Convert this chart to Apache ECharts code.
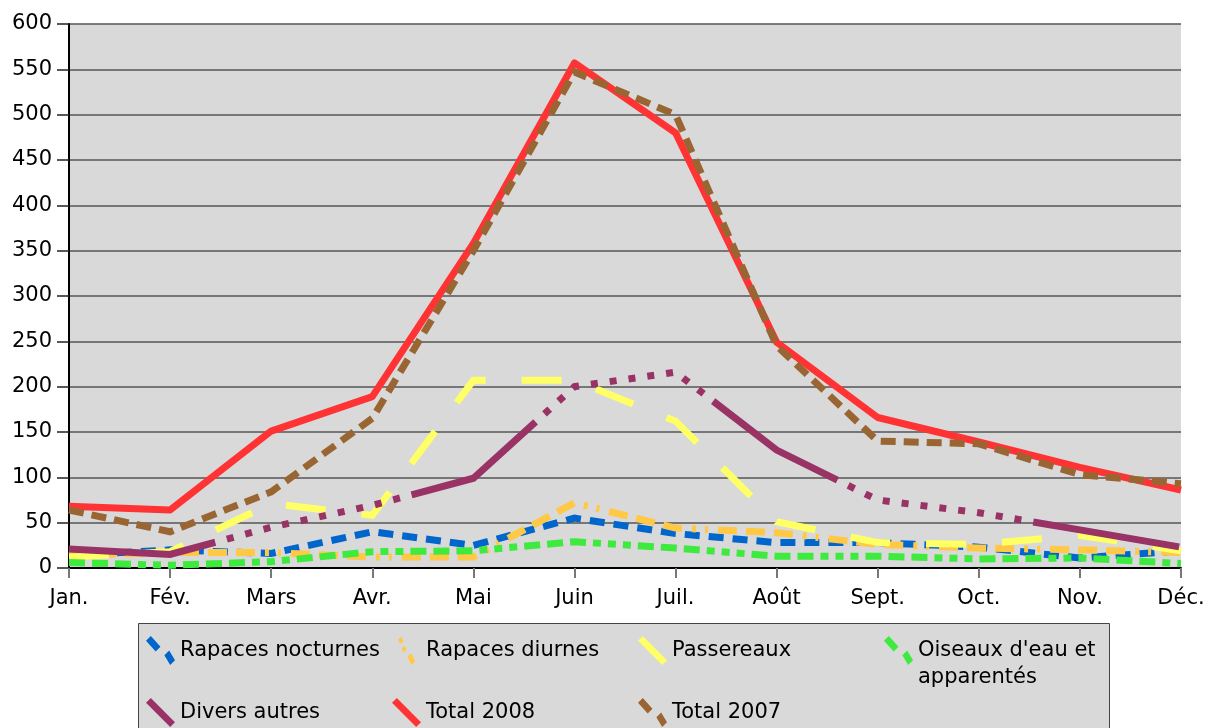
<!DOCTYPE html>
<html>
<head>
<meta charset="utf-8">
<script src="https://cdn.jsdelivr.net/npm/echarts@6/dist/echarts.min.js"></script>
<style>
html,body{margin:0;padding:0;background:#fff;}
#chart{width:1208px;height:728px;}
</style>
</head>
<body>
<div id="chart"></div>
<script>
const months = ['Jan.','Fév.','Mars','Avr.','Mai','Juin','Juil.','Août','Sept.','Oct.','Nov.','Déc.'];
const rapacesNocturnes = [14, 20, 16, 40, 25, 55, 38, 28, 28, 23, 11, 19];
const rapacesDiurnes   = [14, 17, 17, 12, 12, 72, 44, 39, 26, 22, 20, 17];
const passereaux       = [12, 18, 71, 58, 207, 207, 162, 51, 28, 26, 36, 19];
const oiseauxEau       = [6, 3, 7, 18, 19, 29, 22, 13, 13, 10, 11, 5];
const diversAutres     = [21, 15, 45, 69, 99, 200, 216, 130, 75, 61, 42, 23];
const total2008        = [68, 64, 151, 189, 358, 557, 480, 249, 166, 139, 111, 86];
const total2007        = [64, 40, 84, 165, 350, 547, 500, 245, 140, 137, 103, 93];
const yMin = 0, yMax = 600, yStep = 50;

const FONT = 'DejaVu Sans';
const names = ['Rapaces nocturnes','Rapaces diurnes','Passereaux',"Oiseaux d'eau et apparentés",'Divers autres','Total 2008','Total 2007'];
const colors = ['#0066cc','#ffc845','#ffff66','#3dea3d','#993366','#ff3333','#996633'];
const dashes = [
  [15, 9],
  [19, 9, 19, 9, 19, 10, 4, 9, 3, 10],
  [40, 36],
  [16, 7, 16, 7, 16, 7, 8, 7, 8, 7, 8, 7],
  [148, 12, 7,12, 7,12, 7,12, 7,12, 7,12, 7,12, 7,12, 7,12, 7,12, 7,12],
  'solid',
  [15, 8]
];
const values = [rapacesNocturnes, rapacesDiurnes, passereaux, oiseauxEau, diversAutres, total2008, total2007];

const iconSolid = 'path://M0,5 L5,0 L30,25 L25,30 Z';
const iconTwo = 'path://M0,5 L5,0 L15,11 L10,16 Z M19,20 L24,15 L30,25 L25,30 Z';
const iconThree = 'path://M0,0 L0.1,0 L0,0.1 Z M6,4 L9,1 L12,5 L9,8 Z M10,13 L13,10 L15,14 L12,17 Z M16,21 L20,18 L24,26 L20,30 Z M29.9,30 L30,29.9 L30,30 Z';
const icons = [iconTwo, iconThree, iconSolid, iconTwo, iconSolid, iconSolid, iconTwo];

const series = names.map((n, i) => ({
  name: n,
  type: 'line',
  data: values[i],
  showSymbol: false,
  symbol: 'none',
  color: colors[i],
  itemStyle: { color: colors[i] },
  lineStyle: { color: colors[i], width: 7, type: dashes[i], cap: 'butt', join: i === 5 ? 'round' : 'miter' },
  z: 2 + i,
  animation: false
}));

function legendData(idxs) {
  return idxs.map(i => ({
    name: names[i],
    icon: icons[i],
    itemStyle: { color: colors[i], borderWidth: 0, opacity: 1 }
  }));
}
const legendCommon = {
  orient: 'horizontal',
  left: 146,
  padding: 0,
  itemWidth: 29,
  itemHeight: 29,
  itemGap: 10,
  width: 1100,
  selectedMode: false,
  itemStyle: { borderWidth: 0 },
  lineStyle: { width: 0 },
  textStyle: { fontFamily: FONT, fontSize: 21, color: '#000', width: 202, lineHeight: 27 },
  formatter: function (name) {
    return name === "Oiseaux d'eau et apparentés" ? "\nOiseaux d'eau et\napparentés" : name;
  }
};

const chart = echarts.init(document.getElementById('chart'), null, { renderer: 'canvas' });
chart.setOption({
  animation: false,
  backgroundColor: '#ffffff',
  graphic: [{
    type: 'rect',
    z: -1,
    shape: { x: 138.5, y: 623.5, width: 971, height: 120 },
    style: { fill: '#d9d9d9', stroke: '#444', lineWidth: 1 }
  }],
  legend: [
    Object.assign({}, legendCommon, { top: 610, data: legendData([0, 1, 2, 3]) }),
    Object.assign({}, legendCommon, { top: 698, data: legendData([4, 5, 6]) })
  ],
  grid: {
    left: 69, right: 27, top: 24, bottom: 160,
    show: true, backgroundColor: '#d9d9d9', borderWidth: 0
  },
  xAxis: {
    type: 'category',
    data: months,
    boundaryGap: false,
    axisLine: { show: true, lineStyle: { color: '#000', width: 2 } },
    axisTick: { show: true, length: 10, lineStyle: { color: '#777', width: 2 } },
    axisLabel: { fontFamily: FONT, fontSize: 21, color: '#000', margin: 20, interval: 0 },
    splitLine: { show: false }
  },
  yAxis: {
    type: 'value',
    min: yMin, max: yMax, interval: yStep,
    axisLine: { show: true, lineStyle: { color: '#000', width: 2 } },
    axisTick: { show: true, length: 12, lineStyle: { color: '#222', width: 1.5 } },
    axisLabel: { fontFamily: FONT, fontSize: 21, color: '#000', margin: 17 },
    splitLine: { show: true, lineStyle: { color: '#555', width: 1.5 } }
  },
  series: series
});
</script>
</body>
</html>
